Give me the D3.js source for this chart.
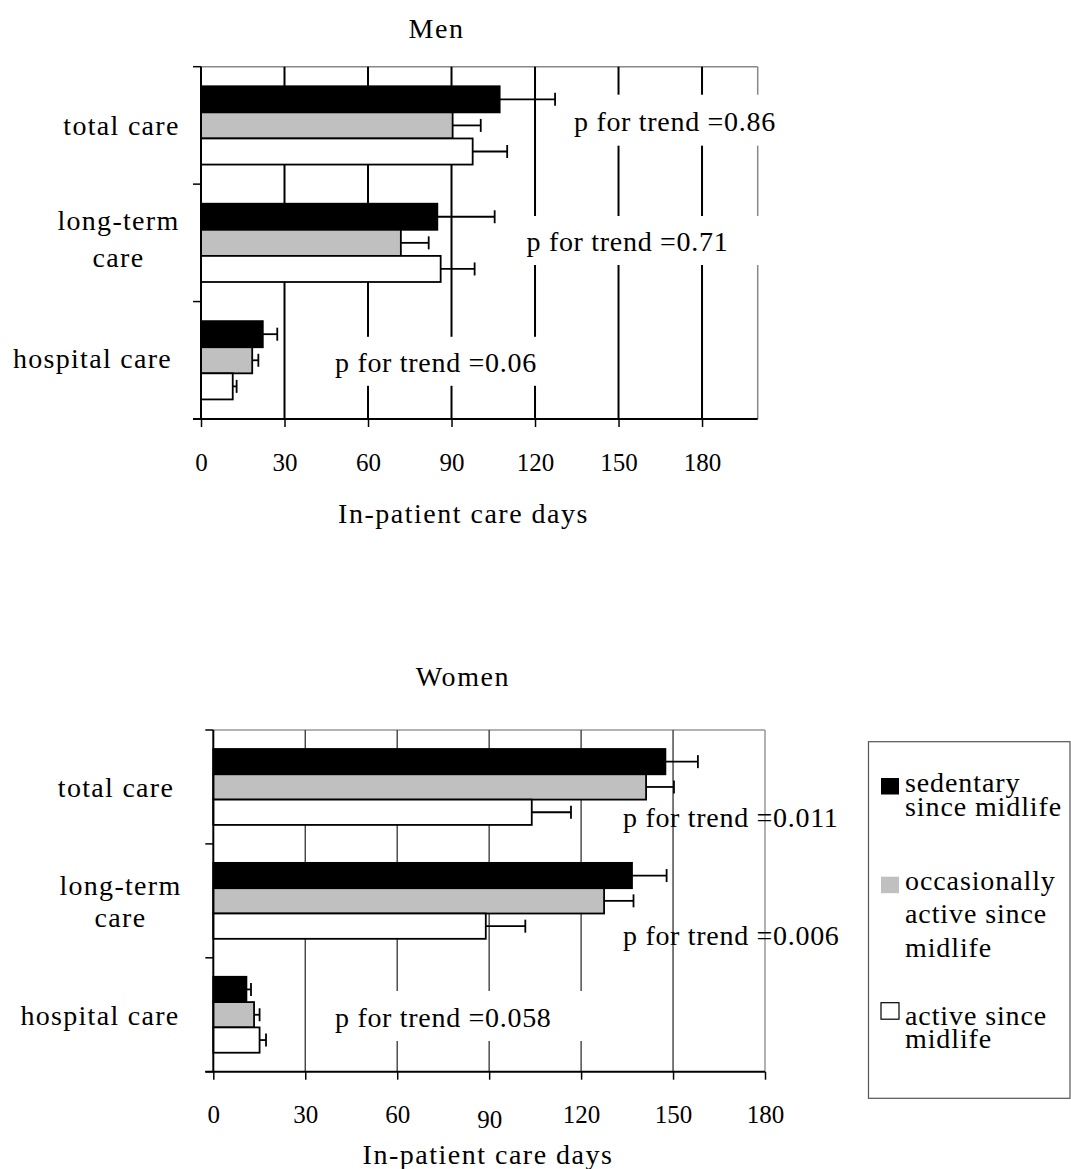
<!DOCTYPE html>
<html>
<head>
<meta charset="utf-8">
<script src="https://cdn.jsdelivr.net/npm/d3@7"></script>
<style>
  html, body { margin: 0; padding: 0; background: #fff; }
  svg { display: block; }
  text { font-family: "Liberation Serif", "Times New Roman", serif; fill: #000; }
</style>
</head>
<body>
<svg id="chart" width="1071" height="1169"></svg>
<script>
// ---------------- DATA ----------------
const categories = ["total care", "long-term care", "hospital care"];
const categoryLines = [["total care"], ["long-term", "care"], ["hospital care"]];
const series = ["sedentary since midlife", "occasionally active since midlife", "active since midlife"];
const legendLines = [["sedentary", "since midlife"], ["occasionally", "active since", "midlife"], ["active since", "midlife"]];
const tickValues = [0, 30, 60, 90, 120, 150, 180];
const axisTitle = "In-patient care days";

// Men (mean days, error bar half-width)
const menSedentary = [107.3, 84.9, 22.2];
const menSedentaryErr = [19.9, 20.6, 5.2];
const menOccasional = [90.4, 71.8, 18.4];
const menOccasionalErr = [10.1, 10.0, 2.2];
const menActive = [97.6, 86.1, 11.4];
const menActiveErr = [12.4, 12.2, 1.4];
const menTrend = ["p for trend =0.86", "p for trend =0.71", "p for trend =0.06"];

// Women
const womenSedentary = [147.5, 136.6, 10.8];
const womenSedentaryErr = [10.6, 11.3, 1.5];
const womenOccasional = [141.2, 127.5, 13.3];
const womenOccasionalErr = [9.1, 9.6, 1.8];
const womenActive = [103.9, 88.9, 15.1];
const womenActiveErr = [12.8, 12.9, 2.1];
const womenTrend = ["p for trend =0.011", "p for trend =0.006", "p for trend =0.058"];

// ---------------- STYLE / LAYOUT ----------------
const fills = ["#000000", "#c0c0c0", "#ffffff"];
const FONT = 28, TICKFONT = 25;

const panels = [
  {
    title: "Men", titleX: 436.5, titleY: 38.3,
    values: [menSedentary, menOccasional, menActive],
    errs: [menSedentaryErr, menOccasionalErr, menActiveErr],
    trend: menTrend,
    xDomain: [0, 200], xRange: [201, 757.7], yRange: [66.7, 419],
    gridColor: "#000", gridWidth: 2, frameColor: "#888", axisLeftExt: 8,
    catLabels: [ {x: 121.5, dy: [9.6]}, {x: 118.5, dy: [-12.8, 24.2]}, {x: 92.5, dy: [7.8]} ],
    trendPos: [
      {x: 574, y: 130.5, box: [566, 94.7, 225, 51]},
      {x: 526.5, y: 251.2, box: [518, 216, 252, 49]},
      {x: 335, y: 372, box: [327, 336.8, 228, 49]}
    ],
    tickLabelDy: {}, axisTitleX: 463.5, axisTitleY: 523
  },
  {
    title: "Women", titleX: 463, titleY: 686,
    values: [womenSedentary, womenOccasional, womenActive],
    errs: [womenSedentaryErr, womenOccasionalErr, womenActiveErr],
    trend: womenTrend,
    xDomain: [0, 180], xRange: [213.3, 765], yRange: [730, 1071.7],
    gridColor: "#333", gridWidth: 1.3, frameColor: "#999", axisLeftExt: 8,
    catLabels: [ {x: 116, dy: [10]}, {x: 120.5, dy: [-6, 26]}, {x: 100, dy: [10]} ],
    trendPos: [
      {x: 623, y: 827, box: null},
      {x: 623, y: 945, box: null},
      {x: 335, y: 1027, box: [327, 991, 263, 50]}
    ],
    tickLabelDy: {90: 5}, axisTitleX: 488, axisTitleY: 1164
  }
];

const svg = d3.select("#chart");

panels.forEach(p => {
  const g = svg.append("g");
  const x = d3.scaleLinear().domain(p.xDomain).range(p.xRange);
  const y = d3.scaleBand().domain(categories).range(p.yRange).paddingInner(1/3).paddingOuter(1/6);
  const ys = d3.scaleBand().domain(series).range([0, y.bandwidth()]);
  const x0 = x(0), xEnd = x(p.xDomain[1]);
  const [top, bottom] = p.yRange;

  // title
  g.append("text").attr("x", p.titleX).attr("y", p.titleY).attr("text-anchor", "middle")
    .style("font-size", FONT + "px").style("letter-spacing", "1.6px").text(p.title);

  // frame top / right
  g.append("line").attr("x1", x0).attr("x2", xEnd).attr("y1", top).attr("y2", top)
    .attr("stroke", p.frameColor).attr("stroke-width", 1.5);
  g.append("line").attr("x1", xEnd).attr("x2", xEnd).attr("y1", top).attr("y2", bottom)
    .attr("stroke", p.frameColor).attr("stroke-width", 1.5);

  // gridlines
  g.selectAll(".grid").data(tickValues.filter(v => v > 0 && x(v) < xEnd - 1)).join("line")
    .attr("x1", d => x(d)).attr("x2", d => x(d)).attr("y1", top).attr("y2", bottom)
    .attr("stroke", p.gridColor).attr("stroke-width", p.gridWidth);

  // trend label boxes (white background)
  p.trendPos.forEach((tp) => {
    if (tp.box) {
      g.append("rect").attr("x", tp.box[0]).attr("y", tp.box[1])
        .attr("width", tp.box[2]).attr("height", tp.box[3]).attr("fill", "#fff");
    }
  });

  // bars
  series.forEach((s, si) => {
    const grp = g.append("g");
    grp.selectAll("rect").data(categories).join("rect")
      .attr("x", x0)
      .attr("y", (c) => y(c) + ys(s))
      .attr("width", (c, ci) => x(p.values[si][ci]) - x0)
      .attr("height", ys.bandwidth())
      .attr("fill", fills[si])
      .attr("stroke", "#000").attr("stroke-width", 1.8);
    // error bars
    grp.selectAll("line.e").data(categories).join("line")
      .attr("x1", (c, ci) => x(p.values[si][ci]))
      .attr("x2", (c, ci) => x(p.values[si][ci] + p.errs[si][ci]))
      .attr("y1", c => y(c) + ys(s) + ys.bandwidth() / 2)
      .attr("y2", c => y(c) + ys(s) + ys.bandwidth() / 2)
      .attr("stroke", "#000").attr("stroke-width", 1.8);
    grp.selectAll("line.c").data(categories).join("line")
      .attr("x1", (c, ci) => x(p.values[si][ci] + p.errs[si][ci]))
      .attr("x2", (c, ci) => x(p.values[si][ci] + p.errs[si][ci]))
      .attr("y1", c => y(c) + ys(s) + ys.bandwidth() / 2 - 6.5)
      .attr("y2", c => y(c) + ys(s) + ys.bandwidth() / 2 + 6.5)
      .attr("stroke", "#000").attr("stroke-width", 1.8);
  });

  // trend texts
  p.trendPos.forEach((tp, i) => {
    g.append("text").attr("x", tp.x).attr("y", tp.y)
      .style("font-size", FONT + "px").style("letter-spacing", "0.7px").text(p.trend[i]);
  });

  // left axis with tick marks at band boundaries
  g.append("line").attr("x1", x0).attr("x2", x0).attr("y1", top).attr("y2", bottom)
    .attr("stroke", "#000").attr("stroke-width", 2);
  const bounds = [top].concat(categories.map(c => y(c) + y.bandwidth() + y.step() * (1/6)));
  g.selectAll(".ytick").data(bounds).join("line")
    .attr("x1", x0 - p.axisLeftExt).attr("x2", x0).attr("y1", d => d).attr("y2", d => d)
    .attr("stroke", "#000").attr("stroke-width", 1.5);

  // bottom axis
  g.append("line").attr("x1", x0 - p.axisLeftExt).attr("x2", xEnd).attr("y1", bottom).attr("y2", bottom)
    .attr("stroke", "#000").attr("stroke-width", 2);
  const ax = d3.axisBottom(x).tickValues(tickValues).tickSizeInner(8).tickSizeOuter(0).tickPadding(26)
    .tickFormat(d3.format("d"));
  const axG = g.append("g").attr("transform", `translate(0,${bottom})`).call(ax);
  axG.select(".domain").remove();
  axG.selectAll(".tick line").attr("stroke", "#000").attr("stroke-width", 1.5);
  axG.selectAll(".tick text")
    .style("font-family", '"Liberation Serif", serif').style("font-size", TICKFONT + "px")
    .attr("fill", "#000");
  axG.selectAll(".tick text").filter(d => p.tickLabelDy[d]).attr("dy", null)
    .attr("y", d => 8 + 26 + 0.71 * TICKFONT + p.tickLabelDy[d]);

  // axis title
  g.append("text").attr("x", p.axisTitleX).attr("y", p.axisTitleY).attr("text-anchor", "middle")
    .style("font-size", FONT + "px").style("letter-spacing", "1.5px").text(axisTitle);

  // category labels
  categories.forEach((c, ci) => {
    const cy = y(c) + y.bandwidth() / 2;
    const lab = p.catLabels[ci];
    categoryLines[ci].forEach((ln, li) => {
      g.append("text").attr("x", lab.x).attr("y", cy + lab.dy[li]).attr("text-anchor", "middle")
        .style("font-size", FONT + "px").style("letter-spacing", "1.3px").text(ln);
    });
  });
});

// ---------------- LEGEND ----------------
const legend = svg.append("g");
legend.append("rect").attr("x", 868.5).attr("y", 741.7).attr("width", 201.5).attr("height", 356.6)
  .attr("fill", "#fff").attr("stroke", "#555").attr("stroke-width", 1.2);
const legendPos = [
  {sy: 778, lines: [791.7, 816]},
  {sy: 876.7, lines: [890, 923.3, 956.7]},
  {sy: 1002.7, lines: [1025, 1048.3]}
];
series.forEach((s, si) => {
  const lp = legendPos[si];
  legend.append("rect").attr("x", 881).attr("y", lp.sy).attr("width", 18).attr("height", 16.5)
    .attr("fill", fills[si])
    .attr("stroke", si === 2 ? "#000" : "none").attr("stroke-width", 1.2);
  legendLines[si].forEach((ln, li) => {
    legend.append("text").attr("x", 905).attr("y", lp.lines[li])
      .style("font-size", FONT + "px").style("letter-spacing", "0.9px").text(ln);
  });
});
</script>
</body>
</html>
